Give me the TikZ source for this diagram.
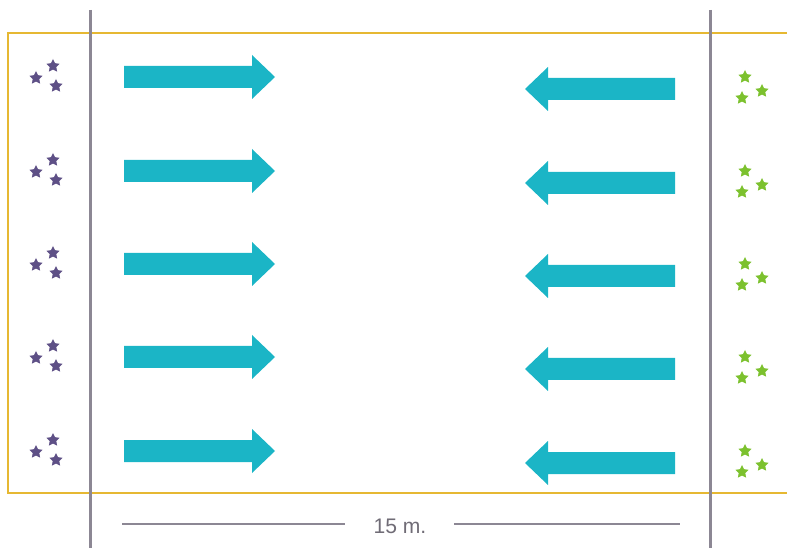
\documentclass[tikz,border=0pt]{standalone}
\usepackage{fontspec}
\setmainfont{Liberation Sans}
\usetikzlibrary{shapes.geometric}
\definecolor{fieldyellow}{HTML}{E6B832}
\definecolor{sidegray}{HTML}{8C8794}
\definecolor{runcyan}{HTML}{1BB5C6}
\definecolor{teampurple}{HTML}{5E5086}
\definecolor{teamgreen}{HTML}{7CC12E}
\tikzset{
  teamstar/.style={star,star points=5,star point ratio=2.0,minimum size=4.2mm,inner sep=0pt},
  purplestar/.style={teamstar,fill=teampurple},
  greenstar/.style={teamstar,fill=teamgreen},
  runarrow/.style={fill=runcyan},
}
\begin{document}
\begin{tikzpicture}[x=0.3mm,y=-0.3mm]
  \useasboundingbox (0,0) rectangle (787,548);
  % field
  \draw[fieldyellow,line width=0.8mm] (787,33) -- (8,33) -- (8,493) -- (787,493);
  \draw[sidegray,line width=0.9mm] (90,10) -- (90,548);
  \draw[sidegray,line width=0.9mm] (710,10) -- (710,548);
  % rows of runners
  \foreach \c [count=\i] in {77,171,264,357,451} {
    \pgfmathsetmacro\d{\c+12}
    \fill[runarrow] (124,\c-11) -- (252,\c-11) -- (252,\c-22) -- (275,\c)
      -- (252,\c+22) -- (252,\c+11) -- (124,\c+11) -- cycle;
    \fill[runarrow] (675,\d-11) -- (548,\d-11) -- (548,\d-22) -- (525,\d)
      -- (548,\d+22) -- (548,\d+11) -- (675,\d+11) -- cycle;
    \node[purplestar] (pa\i) at (53,\c-11) {};
    \node[purplestar] (pb\i) at (36,\c+1) {};
    \node[purplestar] (pc\i) at (56,\c+9) {};
    \node[greenstar] (ga\i) at (745,\d-12) {};
    \node[greenstar] (gb\i) at (762,\d+2) {};
    \node[greenstar] (gc\i) at (742,\d+9) {};
  }
  % length
  \node[text=sidegray!80!black,font=\fontsize{18}{20}\selectfont,inner sep=0pt] (len) at (400,526) {15 m.};
  \coordinate (dimL) at (122,524);
  \coordinate (dimR) at (680,524);
  \draw[sidegray,line width=0.7mm] (dimL) -- (345,524);
  \draw[sidegray,line width=0.7mm] (454,524) -- (dimR);
\end{tikzpicture}
\end{document}
